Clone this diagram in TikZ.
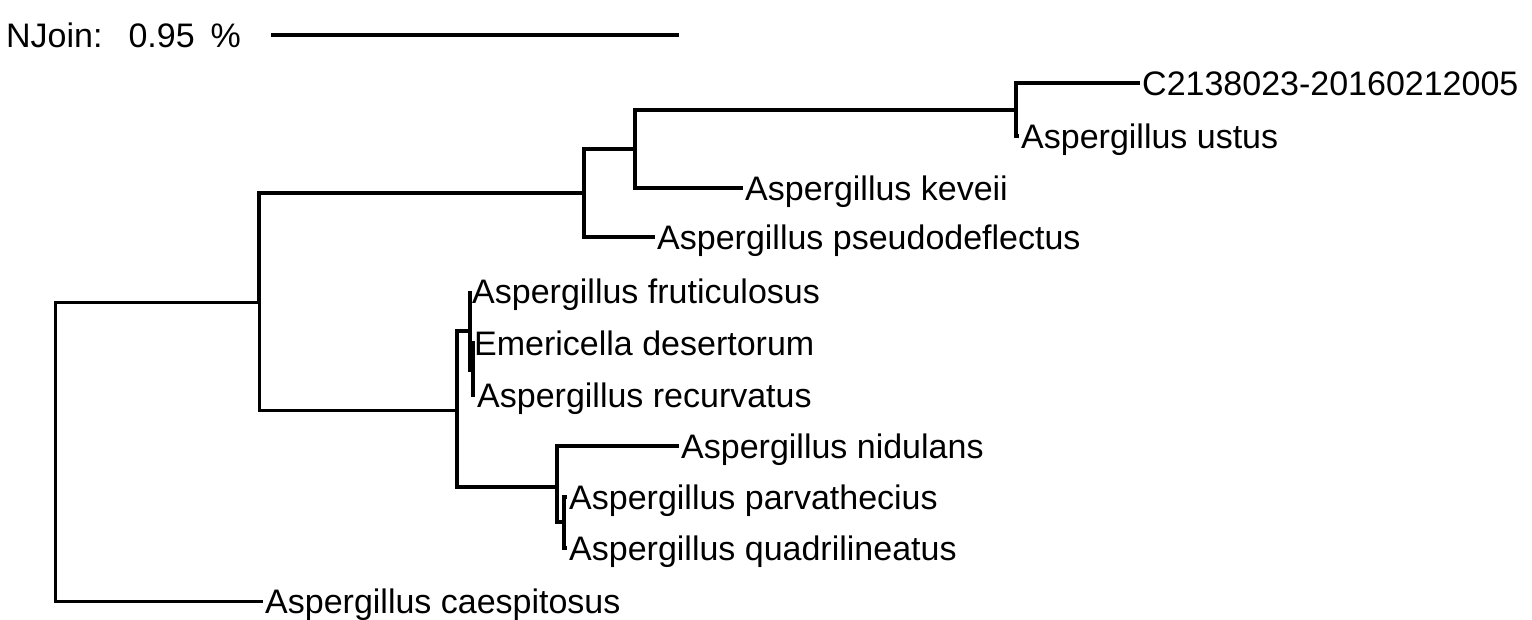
\documentclass[tikz,border=0pt]{standalone}
\usepackage{fontspec}
\setmainfont{Liberation Sans}
\tikzset{
  leaf/.style={anchor=west, inner xsep=2pt, inner ysep=0pt, text height=24pt, text depth=0pt,
    font=\fontsize{34}{41}\selectfont},
  thinbranch/.style={line width=3pt},
}
\begin{document}
\begin{tikzpicture}[x=1pt,y=-1pt]
\useasboundingbox (0,0) rectangle (1532,619);

% scale
\node[leaf] (nj) at (4,35) {NJoin:\hspace{26pt}0.95\hspace{16pt}\%};
\coordinate (sa) at (271,35);
\coordinate (sb) at (679,35);

% inner nodes
\coordinate (nr) at (55,452);
\coordinate (na) at (259,302);
\coordinate (nb) at (584,193);
\coordinate (nd) at (635,149);
\coordinate (ne) at (1016,110);
\coordinate (nc) at (457,410);
\coordinate (nf) at (470,331);
\coordinate (nh) at (473,370);
\coordinate (ng) at (557,487);
\coordinate (ni) at (564,522);

% leaves
\node[leaf] (c21) at (1140,83) {C2138023-20160212005};
\node[leaf] (ust) at (1019,136) {Aspergillus ustus};
\node[leaf] (kev) at (743,188) {Aspergillus keveii};
\node[leaf] (pse) at (655,237) {Aspergillus pseudodeflectus};
\node[leaf] (fru) at (470,291) {Aspergillus fruticulosus};
\node[leaf] (des) at (472,343) {Emericella desertorum};
\node[leaf] (rec) at (475,395) {Aspergillus recurvatus};
\node[leaf] (nid) at (679,446) {Aspergillus nidulans};
\node[leaf] (par) at (567,497) {Aspergillus parvathecius};
\node[leaf] (qua) at (567,548) {Aspergillus quadrilineatus};
\node[leaf] (cae) at (263,601) {Aspergillus caespitosus};

\begin{scope}[line width=3.8pt]
\draw (sa) -- (sb);
\draw (na) |- (nb);
\draw (nb) |- (nd);
\draw (nb) |- (pse.west);
\draw (nd) |- (ne);
\draw (nd) |- (kev.west);
\draw (ne) |- (c21.west);
\draw (ne) |- (ust.west);
\draw (nc) |- (nf);
\draw (nc) |- (ng);
\draw (nf) |- (fru.west);
\draw (nf) |- (nh);
\draw (nh) |- (des.west);
\draw (nh) |- (rec.west);
\draw (ng) |- (nid.west);
\draw (ng) |- (ni);
\draw (ni) |- (par.west);
\draw (ni) |- (qua.west);
\end{scope}

\begin{scope}[thinbranch]
\draw (nr) |- (na);
\draw (nr) |- (cae.west);
\draw (na) |- (nc);
\end{scope}

\end{tikzpicture}
\end{document}
